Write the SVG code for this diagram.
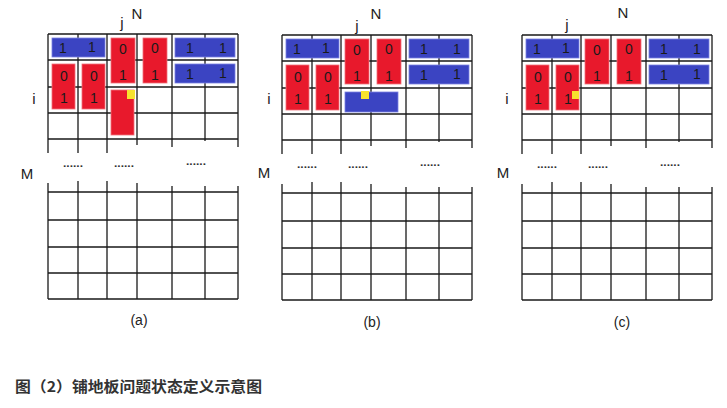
<svg xmlns="http://www.w3.org/2000/svg" width="727" height="408" viewBox="0 0 727 408">
<style>
.bg{fill:#fff}
.gl{stroke:#1a1a1a;stroke-width:1.3;fill:none}
.b{fill:#3b44c2;stroke:#7b82e0;stroke-width:0.8}
.r{fill:#e8192c;stroke:#f0707a;stroke-width:0.8}
.y{fill:#f7e22e}
.d{font-family:"Liberation Sans",Arial,sans-serif;font-size:14px;fill:#1a1a1a;text-anchor:middle}
.l{font-family:"Liberation Sans",Arial,sans-serif;font-size:15px;fill:#222;text-anchor:middle}
.dots{font-family:"Liberation Sans",Arial,sans-serif;font-size:10px;font-weight:bold;fill:#333;text-anchor:middle}
.cap{font-family:"Liberation Sans",Arial,sans-serif;font-size:14px;fill:#222;text-anchor:middle}
.t{font-family:"Noto Sans CJK SC","Noto Sans",sans-serif;font-size:15px;font-weight:bold;fill:#333}
</style>
<defs>
<g id="grid">
  <path class="gl" d="M0,34H190M0,60H190M0,87H190M0,113H190M0,139H190"/>
  <path class="gl" d="M0,34V153M30,34V153M59,34V153M89,34V145M124,34V147M157,34V141M190,34V147"/>
  <path class="gl" d="M0,192H190M0,220H190M0,247H190M0,273H190M0,299H190"/>
  <path class="gl" d="M0,183V299M30,181V299M59,181V299M89,183V299M124,186V299M157,186V299M190,186V299"/>
  <text class="dots" x="25" y="167" textLength="20" lengthAdjust="spacingAndGlyphs">......</text>
  <text class="dots" x="76" y="167" textLength="20" lengthAdjust="spacingAndGlyphs">......</text>
  <text class="dots" x="148" y="165" textLength="20" lengthAdjust="spacingAndGlyphs">......</text>
</g>
<g id="tiles">
  <g id="t-blue-0"><rect class="b" x="4" y="38" width="53" height="19"/><text class="d" x="15" y="53">1</text><text class="d" x="44" y="52">1</text></g>
  <g id="t-red-2"><rect class="r" x="63" y="38" width="24" height="45"/><text class="d" x="75" y="54">0</text><text class="d" x="75" y="80">1</text></g>
  <g id="t-red-3"><rect class="r" x="95" y="38" width="24" height="45"/><text class="d" x="107" y="53">0</text><text class="d" x="107" y="80">1</text></g>
  <g id="t-blue-45a"><rect class="b" x="127" y="38" width="60" height="19"/><text class="d" x="142" y="53">1</text><text class="d" x="175" y="53">1</text></g>
  <g id="t-blue-45b"><rect class="b" x="127" y="64" width="60" height="19"/><text class="d" x="142" y="79">1</text><text class="d" x="175" y="78">1</text></g>
  <g id="t-red-0"><rect class="r" x="4" y="64" width="23" height="45"/><text class="d" x="16" y="81">0</text><text class="d" x="16" y="103">1</text></g>
  <g id="t-red-1"><rect class="r" x="34" y="64" width="23" height="45"/><text class="d" x="46" y="81">0</text><text class="d" x="46" y="103">1</text></g>
</g>
</defs>

<g id="panel-a" transform="translate(48,0)">
  <use href="#grid"/>
  <use href="#tiles"/>
  <g id="a-new"><rect class="r" x="63" y="90" width="23" height="45"/><rect class="y" x="79" y="90" width="8" height="9"/></g>
  <text class="l" x="89" y="19">N</text>
  <text class="l" x="74" y="28">j</text>
  <text class="l" x="-14" y="104">i</text>
  <text class="l" x="-21" y="179">M</text>
  <text class="cap" x="91" y="325">(a)</text>
</g>

<g id="panel-b" transform="translate(282,1)">
  <use href="#grid"/>
  <use href="#tiles"/>
  <g id="b-new"><rect class="b" x="63" y="91" width="53" height="20"/><rect class="y" x="79" y="90" width="8" height="8"/></g>
  <text class="l" x="94" y="18">N</text>
  <text class="l" x="75" y="30">j</text>
  <text class="l" x="-13" y="103">i</text>
  <text class="l" x="-18" y="177">M</text>
  <text class="cap" x="90" y="326">(b)</text>
</g>

<g id="panel-c" transform="translate(522,1)">
  <use href="#grid"/>
  <use href="#tiles"/>
  <g id="c-new"><rect class="y" x="50" y="90" width="7" height="8"/></g>
  <text class="l" x="101" y="17">N</text>
  <text class="l" x="45" y="29">j</text>
  <text class="l" x="-15" y="103">i</text>
  <text class="l" x="-19" y="177">M</text>
  <text class="cap" x="100" y="326">(c)</text>
</g>

<text class="t" x="15" y="392" textLength="247" lengthAdjust="spacingAndGlyphs">图（2）铺地板问题状态定义示意图</text>
</svg>
